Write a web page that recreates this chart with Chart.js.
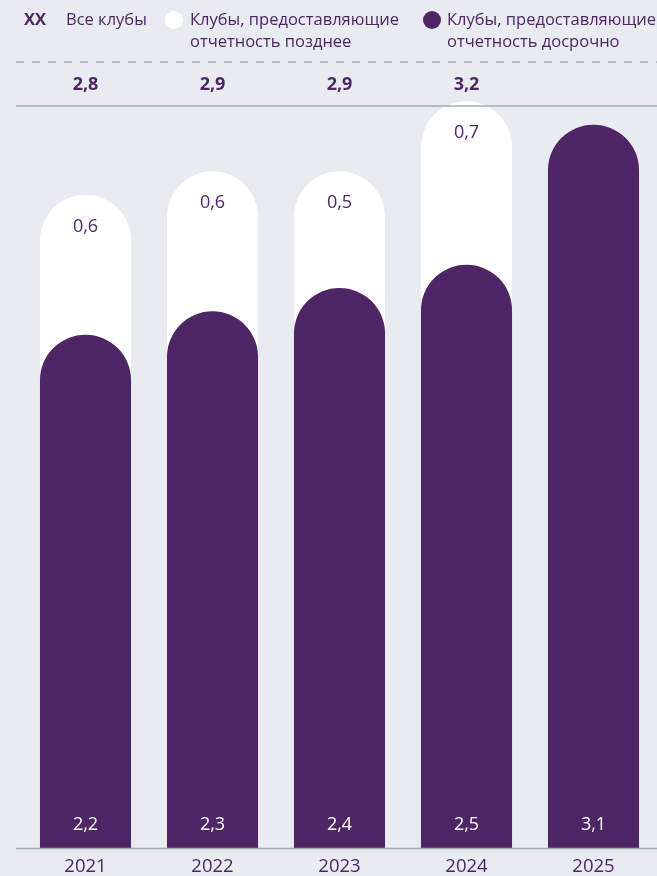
<!DOCTYPE html>
<html>
<head>
<meta charset="utf-8">
<script src="https://cdn.jsdelivr.net/npm/chart.js@4"></script>
<style>
  html, body { margin: 0; padding: 0; background: #e8ebef; }
  canvas { display: block; }
</style>
</head>
<body>
<canvas id="clubs" width="657" height="876"></canvas>
<script>
const years = ["2021", "2022", "2023", "2024", "2025"];
const early = [2.2, 2.3, 2.4, 2.5, 3.1];     // отчетность досрочно
const late = [0.6, 0.6, 0.5, 0.7, null];     // отчетность позднее
const totals = [2.8, 2.9, 2.9, 3.2, null];   // все клубы

const purple = "#4e2665";
const fmt = (v) => String(v).replace(".", ",");
const font = "'Open Sans', sans-serif";

// labels on bars, totals row, legend and lines
const decor = {
  id: "decor",
  afterDatasetsDraw(chart) {
    const c = chart.ctx;
    const early_meta = chart.getDatasetMeta(0);
    const all_meta = chart.getDatasetMeta(1);
    c.save();
    c.textAlign = "center";
    c.textBaseline = "middle";

    // values inside the bars
    c.font = "18px " + font;
    early_meta.data.forEach((bar, i) => {
      c.fillStyle = "#ffffff";
      c.fillText(fmt(early[i]), bar.x, 825);
    });
    all_meta.data.forEach((bar, i) => {
      if (late[i] == null) return;
      c.fillStyle = purple;
      c.fillText(fmt(late[i]), bar.x, bar.y + 32);
    });

    // totals row
    c.font = "bold 18px " + font;
    all_meta.data.forEach((bar, i) => {
      if (totals[i] == null) return;
      c.fillStyle = purple;
      c.fillText(fmt(totals[i]), bar.x, 85);
    });

    // lines
    c.strokeStyle = "#a3abb3";
    c.lineWidth = 1.5;
    c.setLineDash([8, 8]);
    c.beginPath();
    c.moveTo(16, 62);
    c.lineTo(657, 62);
    c.stroke();
    c.setLineDash([]);
    c.beginPath();
    c.moveTo(16, 106);
    c.lineTo(657, 106);
    c.stroke();
    c.beginPath();
    c.moveTo(16, 848.5);
    c.lineTo(657, 848.5);
    c.stroke();

    // legend
    c.textAlign = "left";
    c.fillStyle = purple;
    c.font = "bold 16.5px " + font;
    c.fillText("XX", 24, 20);
    c.font = "16.5px " + font;
    c.fillText("Все клубы", 66, 20);
    c.fillStyle = "#ffffff";
    c.beginPath();
    c.arc(174, 20, 9, 0, Math.PI * 2);
    c.fill();
    c.fillStyle = purple;
    c.fillText("Клубы, предоставляющие", 190, 20);
    c.fillText("отчетность позднее", 190, 42);
    c.beginPath();
    c.arc(432, 20, 9, 0, Math.PI * 2);
    c.fill();
    c.fillText("Клубы, предоставляющие", 447, 20);
    c.fillText("отчетность досрочно", 447, 42);
    c.restore();
  }
};

const cap = { topLeft: 100, topRight: 100, bottomLeft: 0, bottomRight: 0 };

new Chart(document.getElementById("clubs").getContext("2d"), {
  type: "bar",
  data: {
    labels: years,
    datasets: [
      {
        label: "Клубы, предоставляющие отчетность досрочно",
        data: early,
        backgroundColor: purple,
        borderRadius: cap,
        borderSkipped: false,
      },
      {
        label: "Все клубы",
        data: totals,
        backgroundColor: "#ffffff",
        borderRadius: cap,
        borderSkipped: false,
      },
    ],
  },
  options: {
    responsive: false,
    animation: false,
    layout: { padding: { left: 22, right: 0, top: 78, bottom: 0 } },
    datasets: { bar: { barPercentage: 1, categoryPercentage: 0.717 } },
    plugins: { legend: { display: false }, tooltip: { enabled: false } },
    scales: {
      x: {
        stacked: true,
        grid: { display: false },
        border: { display: false },
        ticks: { color: purple, font: { family: font, size: 18.5 }, padding: 0 },
        afterFit(scale) { scale.height = 28; },
      },
      y: {
        stacked: false,
        display: false,
        min: 0,
        max: 3.3,
      },
    },
  },
  plugins: [decor],
});
</script>
</body>
</html>
